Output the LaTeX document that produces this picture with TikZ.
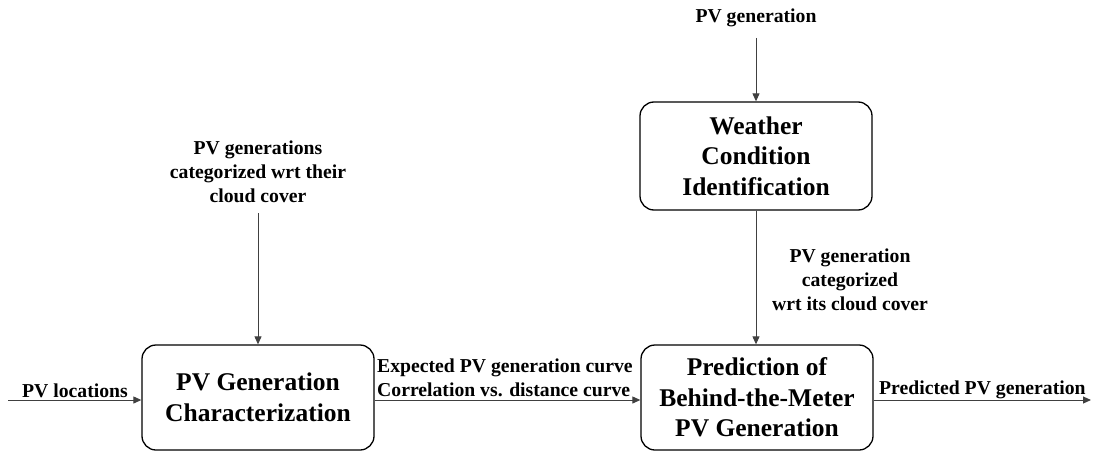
\documentclass[tikz,border=0pt]{standalone}
\usepackage{fontspec}
\setmainfont{Liberation Serif}
\usetikzlibrary{arrows.meta}
\tikzset{
  block/.style={draw=black, line width=1.3pt, rounded corners=14pt, minimum width=232pt, minimum height=105pt, align=center, inner sep=0pt, font=\fontsize{25.5}{30.5}\selectfont\bfseries},
  lbl/.style={align=center, inner sep=0pt, font=\fontsize{19.7}{23.8}\selectfont\bfseries},
  flow/.style={draw=black!75, line width=1pt, -{Triangle[length=8pt,width=7pt]}}
}
\begin{document}
\begin{tikzpicture}[x=1pt,y=-1pt]
\useasboundingbox (0,0) rectangle (1097,452);
% processing blocks
\node[block] (char) at (258,397.5) {PV Generation\\Characterization};
\node[block, minimum height=108pt] (weather) at (756,156) {Weather\\Condition\\Identification};
\node[block] (pred) at (757,397.5) {Prediction of\\Behind-the-Meter\\PV Generation};
% input and output labels
\node[lbl] (pvgen) at (756,18) {PV generation};
\node[lbl] (cat) at (258,172) {PV generations\\categorized wrt their\\cloud cover};
\node[lbl] (catw) at (850,280) {PV generation\\categorized\\wrt its cloud cover};
\node[lbl] (loc) at (75,391) {PV locations};
\node[lbl, align=left, anchor=west] (curves) at (377,377.5) {Expected PV generation curve\\Correlation vs. distance curve};
\node[lbl, anchor=west] (out) at (879,390) {Predicted PV generation};
% free ends
\coordinate (inL) at (8,400);
\coordinate (outR) at (1091,400);
% connectors
\draw[flow] (pvgen.south |- 0,38) -- (weather.north);
\draw[flow] (weather.south) -- (weather.south |- pred.north);
\draw[flow] (cat.south |- 0,213) -- (char.north);
\draw[flow] (inL) -- (inL -| char.west);
\draw[flow] (char.east |- 0,400) -- (pred.west |- 0,400);
\draw[flow] (pred.east |- 0,400) -- (outR);
\end{tikzpicture}
\end{document}
